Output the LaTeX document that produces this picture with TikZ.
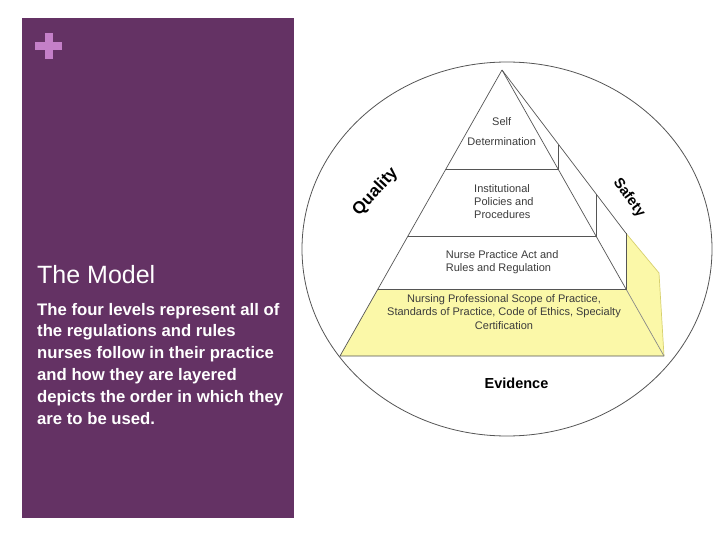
\documentclass[tikz,border=0pt]{standalone}
\usepackage{fontspec}
\setmainfont{Liberation Sans}
\definecolor{panel}{RGB}{100,50,100}
\definecolor{plusc}{RGB}{196,128,200}
\definecolor{pyel}{RGB}{251,248,168}
\definecolor{pyeldk}{RGB}{215,208,110}
\definecolor{lin}{RGB}{85,85,85}
\definecolor{ptxt}{RGB}{60,60,60}
\begin{document}
\begin{tikzpicture}[x=1pt,y=-1pt,
  edge/.style={draw=lin, line width=0.7pt, line join=miter},
  ptext/.style={text=ptxt, font=\fontsize{11}{13.4}\selectfont, inner sep=0pt},
  bodyline/.style={anchor=base west, text=white, inner sep=0pt, font=\bfseries\fontsize{16.7}{21.8}\selectfont},
  biglabel/.style={text=black, font=\bfseries\fontsize{17}{20}\selectfont, inner sep=0pt}]
\useasboundingbox (0,0) rectangle (720,540);
\fill[white] (0,0) rectangle (720,540);
% left panel
\fill[panel] (22,18) rectangle (294,518);
\fill[plusc] (35,42) rectangle (62,50);
\fill[plusc] (44.5,33) rectangle (52.5,59);
\node[anchor=base west, text=white, inner sep=0pt, font=\fontsize{25}{30}\selectfont] (title) at (37,283) {The Model};
\node[bodyline] (l1) at (37,315) {The four levels represent all of};
\node[bodyline] (l2) at (37,336.8) {the regulations and rules};
\node[bodyline] (l3) at (37,358.6) {nurses follow in their practice};
\node[bodyline] (l4) at (37,380.4) {and how they are layered};
\node[bodyline] (l5) at (37,402.2) {depicts the order in which they};
\node[bodyline] (l6) at (37,424) {are to be used.};
% circle
\draw[draw=lin, line width=0.8pt] (507,249) ellipse [x radius=205, y radius=187];
% pyramid coordinates
\coordinate (A) at (502,70);
\coordinate (BL) at (340,356);
\coordinate (BR) at (664,356);
\coordinate (L1) at (445.9,169); \coordinate (R1) at (558.1,169);
\coordinate (L2) at (407.6,236.7); \coordinate (R2) at (596.4,236.7);
\coordinate (L3) at (378,289); \coordinate (R3) at (626,289);
\coordinate (O1) at (558.1,145); \coordinate (O2) at (596.4,194.5);
\coordinate (O3) at (626,233.3); \coordinate (O4) at (659,273);
% yellow layer
\fill[pyel] (L3) -- (R3) -- (O3) -- (O4) -- (BR) -- (BL) -- cycle;
\draw[draw=pyeldk, line width=0.7pt] (O3) -- (O4) -- (BR);
\draw[edge] (A) -- (BL) -- (BR);
\draw[edge] (A) -- (R3);
\draw[edge, draw=lin!70] (R3) -- (BR);
\draw[edge] (L1) -- (R1) -- (O1);
\draw[edge] (L2) -- (R2) -- (O2);
\draw[edge] (L3) -- (R3) -- (O3);
\draw[edge] (A) -- (O3);
% texts
\node[ptext] (self) at (501.7,122) {Self};
\node[ptext] (det) at (501.7,142) {Determination};
\node[ptext, anchor=west, align=left] (inst) at (474,201.6) {Institutional\\Policies and\\Procedures};
\node[ptext, anchor=west, align=left] (npa) at (445.7,262) {Nurse Practice Act and\\Rules and Regulation};
\node[ptext, align=center] (nps) at (504,311.7) {Nursing Professional Scope of Practice,\\Standards of Practice, Code of Ethics, Specialty\\Certification};
\node[text=black, font=\bfseries\fontsize{14.5}{17}\selectfont, inner sep=0pt] (evid) at (516.5,383) {Evidence};
\node[biglabel, rotate=47] (qual) at (375.5,192) {Quality};
\node[biglabel, font=\bfseries\fontsize{14.5}{17}\selectfont, rotate=-54] (safe) at (629,198) {Safety};
\end{tikzpicture}
\end{document}
